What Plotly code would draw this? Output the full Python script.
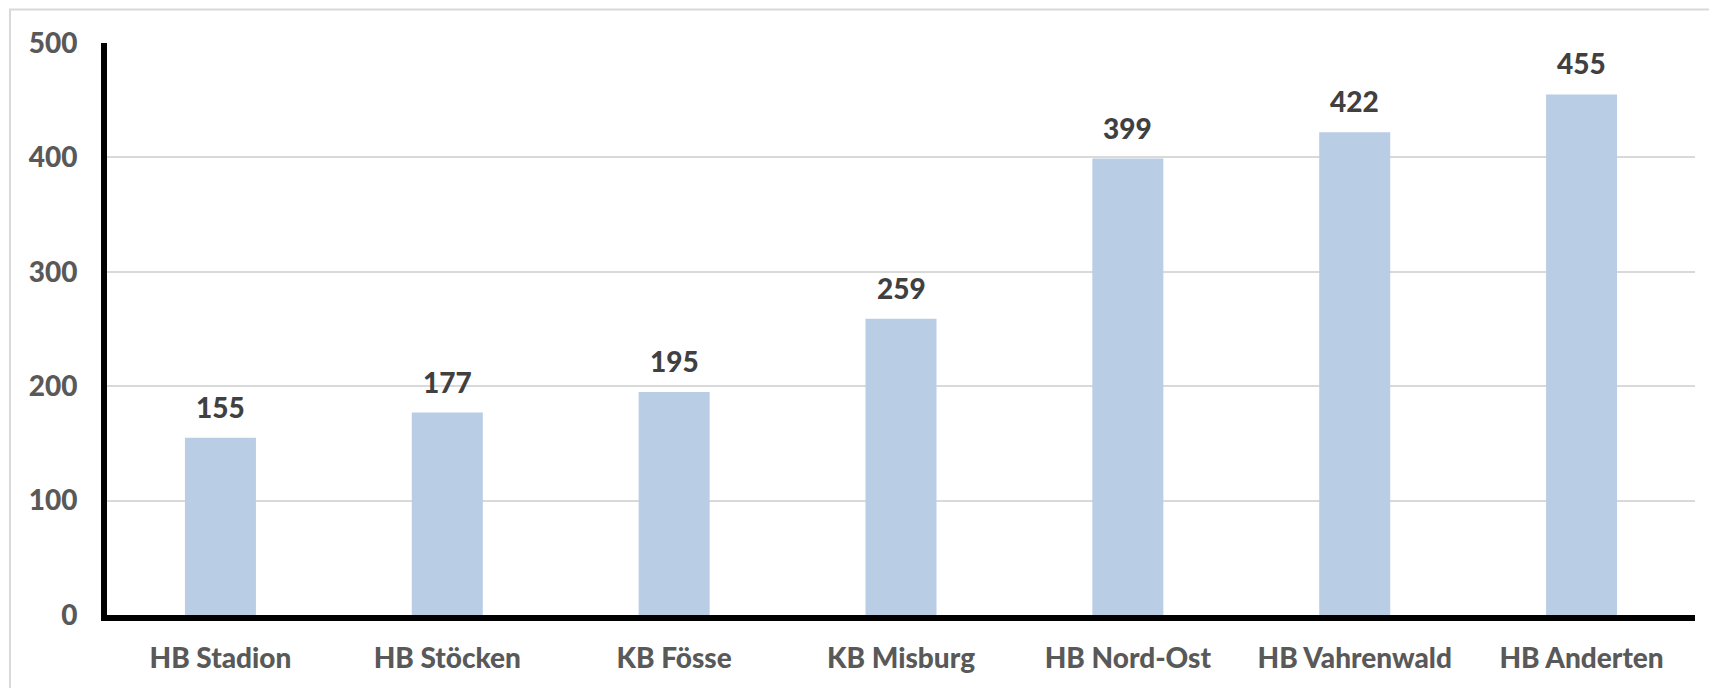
import plotly.graph_objects as go

# Data
categories = ["HB Stadion", "HB Stöcken", "KB Fösse", "KB Misburg",
              "HB Nord-Ost", "HB Vahrenwald", "HB Anderten"]
values = [155, 177, 195, 259, 399, 422, 455]
y_ticks = [0, 100, 200, 300, 400, 500]

BAR_COLOR = "#B9CDE5"
FONT = "Lato"

fig = go.Figure()
fig.add_trace(go.Bar(
    x=categories,
    y=values,
    marker=dict(color=BAR_COLOR, line=dict(width=0)),
    hoverinfo="x+y",
))

# Value labels above each bar
for cat, val in zip(categories, values):
    fig.add_annotation(
        x=cat, y=val, text=str(val),
        showarrow=False, yanchor="bottom", yshift=12,
        font=dict(family=FONT, size=28, color="#404040", weight=900),
    )

# Light outer frame around the chart
fig.add_shape(
    type="rect", xref="paper", yref="paper",
    x0=-0.0611, x1=1.2, y0=-0.3, y1=1.0585,
    line=dict(color="#D9D9D9", width=2), fillcolor="rgba(0,0,0,0)",
    layer="below",
)

fig.update_layout(
    width=1709, height=688,
    margin=dict(l=107, r=14, t=42.5, b=73, autoexpand=False),
    paper_bgcolor="white", plot_bgcolor="white",
    bargap=0.687,
    showlegend=False,
    font=dict(family=FONT),
)

fig.update_xaxes(
    showline=True, linecolor="black", linewidth=6,
    showgrid=False, ticks="", automargin=False,
    tickfont=dict(family=FONT, size=28, color="#595959", weight=900),
    ticklabelstandoff=13,
)

fig.update_yaxes(
    range=[0, 500], tickvals=y_ticks,
    showline=True, linecolor="black", linewidth=6,
    showgrid=True, gridcolor="#D9D9D9", gridwidth=2,
    zeroline=False, ticks="", automargin=False,
    tickfont=dict(family=FONT, size=28, color="#595959", weight=900),
    ticklabelstandoff=18,
)

fig.write_html("out.html")
